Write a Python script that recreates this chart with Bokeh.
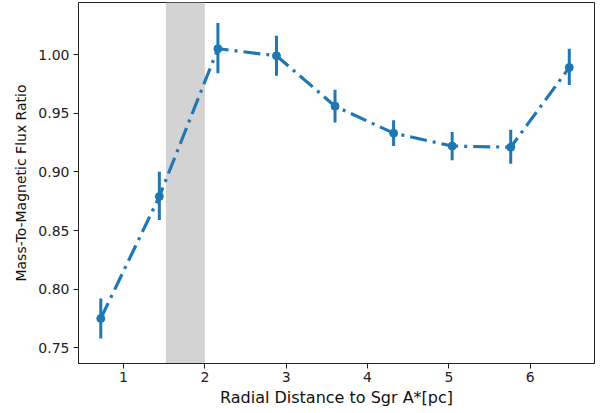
from bokeh.plotting import figure
from bokeh.models import BoxAnnotation, FixedTicker, Range1d, CustomJSTickFormatter
from bokeh.embed import file_html
from bokeh.resources import INLINE

radius = [0.72, 1.44, 2.16, 2.88, 3.60, 4.32, 5.04, 5.76, 6.48]
ratio = [0.775, 0.879, 1.005, 0.999, 0.956, 0.933, 0.922, 0.921, 0.989]
err_low = [0.758, 0.859, 0.984, 0.982, 0.942, 0.922, 0.910, 0.907, 0.974]
err_high = [0.792, 0.900, 1.027, 1.016, 0.970, 0.944, 0.934, 0.936, 1.005]
shade = [1.52, 2.0]
x_ticks = [1, 2, 3, 4, 5, 6]
y_ticks = [0.75, 0.80, 0.85, 0.90, 0.95, 1.00]

blue = "#1f77b4"
font = "DejaVu Sans"

p = figure(width=612, height=413, output_backend="svg", toolbar_location=None,
           x_range=Range1d(0.446, 6.79), y_range=Range1d(0.7366, 1.0444),
           min_border_left=78, min_border_right=18, min_border_top=2, min_border_bottom=50)
p.background_fill_color = "white"
p.border_fill_color = "white"
p.outline_line_color = "#222222"
p.outline_line_width = 1
p.xgrid.visible = False
p.ygrid.visible = False

p.add_layout(BoxAnnotation(left=shade[0], right=shade[1], fill_color="lightgray",
                           fill_alpha=1.0, line_color=None, level="underlay"))

p.segment(x0=radius, y0=err_low, x1=radius, y1=err_high, line_color=blue, line_width=3)
p.line(radius, ratio, line_color=blue, line_width=3.2, line_dash="17 6 3 6")
p.scatter(radius, ratio, size=8, color=blue)

for ax in (p.xaxis[0], p.yaxis[0]):
    ax.major_tick_in = 0
    ax.major_tick_out = 5
    ax.minor_tick_line_color = None
    ax.axis_line_color = "#222222"
    ax.major_tick_line_color = "#222222"
    ax.major_label_text_font = font
    ax.major_label_text_font_size = "14px"
    ax.major_label_text_color = "#222222"
    ax.axis_label_text_font = font
    ax.axis_label_text_font_style = "normal"
    ax.axis_label_text_color = "#111111"

p.xaxis.ticker = FixedTicker(ticks=x_ticks)
p.yaxis.ticker = FixedTicker(ticks=y_ticks)
p.yaxis.formatter = CustomJSTickFormatter(code="return tick.toFixed(2);")
p.xaxis.axis_label = "Radial Distance to Sgr A*[pc]"
p.xaxis.axis_label_text_font_size = "16px"
p.xaxis.axis_label_standoff = 3
p.xaxis.major_label_standoff = 3
p.yaxis.axis_label = "Mass-To-Magnetic Flux Ratio"
p.yaxis.axis_label_text_font_size = "14px"
p.yaxis.axis_label_standoff = 6
p.yaxis.major_label_standoff = 4

open("out.html", "w").write(file_html(p, INLINE))
